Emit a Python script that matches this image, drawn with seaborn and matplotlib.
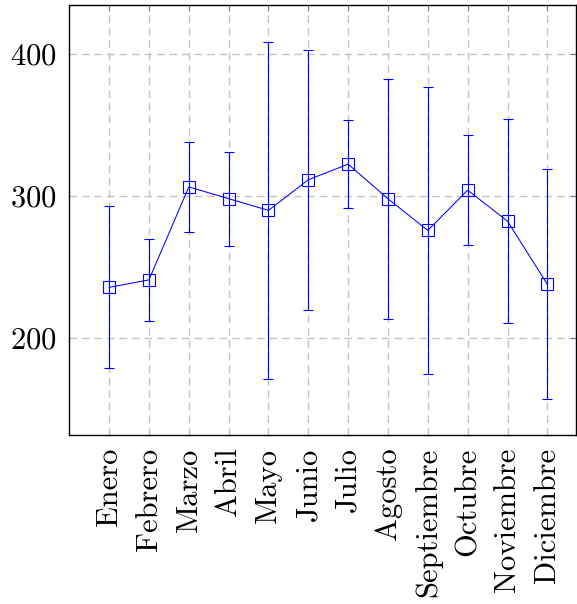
import matplotlib
matplotlib.use("Agg")
import matplotlib.pyplot as plt
import seaborn as sns
import pandas as pd

# data
months = ["Enero", "Febrero", "Marzo", "Abril", "Mayo", "Junio",
          "Julio", "Agosto", "Septiembre", "Octubre", "Noviembre", "Diciembre"]
means = [235.5, 240.8, 306.2, 297.9, 289.7, 311.2,
         322.2, 297.8, 275.6, 303.9, 282.1, 237.7]
errors = [57.0, 28.7, 31.9, 33.0, 118.6, 91.4,
          31.0, 84.3, 101.2, 38.8, 71.8, 80.9]
yticks = [200, 300, 400]

sns.set_style("white")
plt.rcParams["font.family"] = ["cmr10", "DejaVu Serif"]
plt.rcParams["axes.formatter.use_mathtext"] = True
plt.rcParams["text.color"] = "black"

df = pd.DataFrame({"mes": months, "valor": means, "error": errors})
df["pos"] = range(len(df))

fig = plt.figure(figsize=(5.77, 6.04), dpi=100)
ax = fig.add_axes([0.1201, 0.2798, 0.8782, 0.7114])

ax.errorbar(df["pos"], df["valor"], yerr=df["error"], fmt="none",
            ecolor="blue", elinewidth=0.8, capsize=3.6, capthick=0.8)
sns.lineplot(data=df, x="pos", y="valor", sort=False, color="blue",
             linewidth=0.75, marker="s", markersize=8,
             markerfacecolor="none", markeredgecolor="blue",
             markeredgewidth=0.8, ax=ax)

ax.set_xlim(-1.0, 11.72)
ax.set_ylim(131.7, 433.9)
ax.set_xticks(df["pos"])
ax.set_xticklabels(df["mes"], rotation=90, ha="center", va="top")
ax.set_yticks(yticks)
ax.set_xlabel("")
ax.set_ylabel("")

ax.set_axisbelow(True)
ax.grid(True, color="#c4c4c4", linestyle=(0, (5.5, 3.5)), linewidth=1)
ax.tick_params(direction="in", length=4, color="gray", top=True, right=True,
               labelsize=22, pad=9, labelcolor="black")
for s in ax.spines.values():
    s.set_visible(True)
    s.set_color("black")
    s.set_linewidth(1)

fig.savefig("out.png", dpi=100)
